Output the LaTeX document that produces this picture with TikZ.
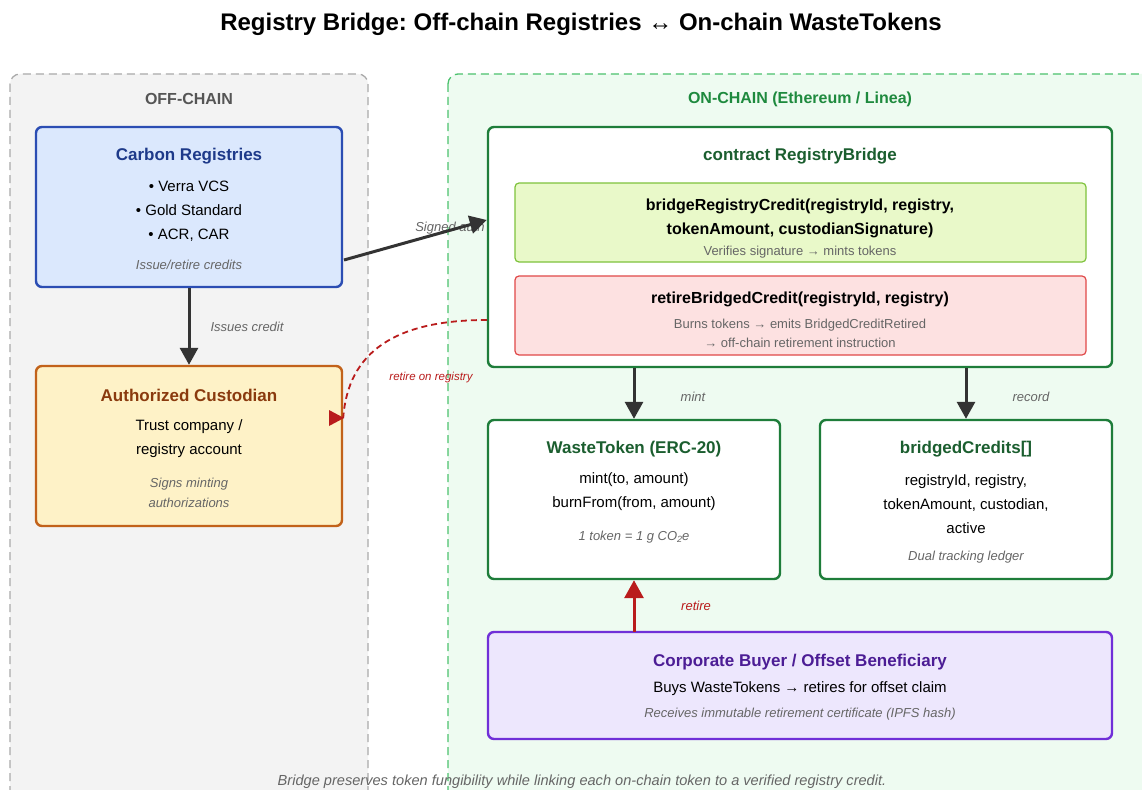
\documentclass[tikz,border=0pt]{standalone}
\usepackage{fontspec}
\setmainfont{Liberation Sans}
\frenchspacing
\usetikzlibrary{arrows.meta}
\definecolor{offfill}{HTML}{F3F3F3}
\definecolor{offborder}{HTML}{AAAAAA}
\definecolor{offtitle}{HTML}{555555}
\definecolor{onfill}{HTML}{EEFBF1}
\definecolor{onborder}{HTML}{4CC26E}
\definecolor{ontitle}{HTML}{1E8A3E}
\definecolor{carbonfill}{HTML}{DBE8FD}
\definecolor{carbonborder}{HTML}{2B4DB3}
\definecolor{carbontitle}{HTML}{1E3A8A}
\definecolor{custfill}{HTML}{FEF2C7}
\definecolor{custborder}{HTML}{C2621A}
\definecolor{custtitle}{HTML}{8A3A0E}
\definecolor{gborder}{HTML}{1E7D3A}
\definecolor{gtitle}{HTML}{1B5E2F}
\definecolor{bridgefill}{HTML}{E9F9C9}
\definecolor{bridgeborder}{HTML}{7EC23C}
\definecolor{retirefill}{HTML}{FDE1E1}
\definecolor{retireborder}{HTML}{E04848}
\definecolor{buyfill}{HTML}{EDE7FD}
\definecolor{buyborder}{HTML}{7030D8}
\definecolor{buytitle}{HTML}{4C1D95}
\definecolor{darkarrow}{HTML}{333333}
\definecolor{redarrow}{HTML}{B91C1C}
\definecolor{graytext}{HTML}{666666}
\tikzset{
  box/.style={draw, line width=2.4pt, rounded corners=6pt, inner sep=0pt},
  sub/.style={draw, line width=1.2pt, rounded corners=4pt, inner sep=0pt},
  tx/.style={inner sep=0pt, yshift=-2pt},
  ttl/.style={tx, font=\fontsize{17}{20}\selectfont\bfseries},
  body/.style={tx, font=\fontsize{15}{24}\selectfont, align=center},
  note/.style={tx, font=\fontsize{13}{20}\selectfont\itshape, text=graytext, align=center},
  lbl/.style={tx, font=\fontsize{13}{16}\selectfont\itshape, text=graytext},
  flow/.style={draw=darkarrow, line width=3pt, -{Triangle[length=17pt,width=18pt]}},
}
\begin{document}
\begin{tikzpicture}[x=1pt,y=-1pt]
\useasboundingbox (0,0) rectangle (1142,789);
\clip (0,0) rectangle (1142,789);
\fill[white] (0,0) rectangle (1142,789);
% title
\node[tx, font=\fontsize{24}{28}\selectfont\bfseries] (title) at (581,22) {Registry Bridge: Off-chain Registries ↔ On-chain WasteTokens};
% panels
\draw[fill=offfill, draw=offborder, line width=1.3pt, dash pattern=on 8pt off 5pt, rounded corners=10pt] (10,74) rectangle (368,830);
\draw[fill=onfill, draw=onborder, line width=1.3pt, dash pattern=on 8pt off 5pt, rounded corners=10pt] (448,74) rectangle (1180,830);
\node[tx, font=\fontsize{16}{19}\selectfont\bfseries, text=offtitle] (offlbl) at (189,97) {OFF-CHAIN};
\node[tx, font=\fontsize{16}{19}\selectfont\bfseries, text=ontitle] (onlbl) at (800,97) {ON-CHAIN (Ethereum / Linea)};
% carbon registries
\node[box, fill=carbonfill, draw=carbonborder, minimum width=306pt, minimum height=160pt] (carbon) at (189,207) {};
\node[ttl, text=carbontitle] (carbonT) at (189,154) {Carbon Registries};
\node[body] (carbonB) at (189,209) {• Verra VCS\\• Gold Standard\\• ACR, CAR};
\node[note] (carbonN) at (189,263) {Issue/retire credits};
% custodian
\node[box, fill=custfill, draw=custborder, minimum width=306pt, minimum height=160pt] (cust) at (189,446) {};
\node[ttl, text=custtitle] (custT) at (189,393) {Authorized Custodian};
\node[body] (custB) at (189,437) {Trust company /\\registry account};
\node[note] (custN) at (189,491) {Signs minting\\authorizations};
% contract
\node[box, fill=white, draw=gborder, minimum width=624pt, minimum height=240pt] (contract) at (800,247) {};
\node[ttl, text=gtitle] (contractT) at (800,154) {contract RegistryBridge};
\node[sub, fill=bridgefill, draw=bridgeborder, minimum width=571pt, minimum height=79pt] (bridge) at (800.5,222.5) {};
\node[tx, font=\fontsize{16}{24}\selectfont\bfseries, align=center] (bridgeB) at (800,216) {bridgeRegistryCredit(registryId, registry,\\tokenAmount, custodianSignature)};
\node[tx, font=\fontsize{13}{19}\selectfont, text=graytext] (bridgeN) at (800,250) {Verifies signature → mints tokens};
\node[sub, fill=retirefill, draw=retireborder, minimum width=571pt, minimum height=79pt] (retire) at (800.5,315.5) {};
\node[tx, font=\fontsize{16}{24}\selectfont\bfseries] (retireB) at (800,297) {retireBridgedCredit(registryId, registry)};
\node[tx, font=\fontsize{13}{19}\selectfont, text=graytext, align=center] (retireN) at (800,331.5) {Burns tokens → emits BridgedCreditRetired\\→ off-chain retirement instruction};
% waste token
\node[box, fill=white, draw=gborder, minimum width=292pt, minimum height=159pt] (waste) at (634,499.5) {};
\node[ttl, text=gtitle] (wasteT) at (634,447) {WasteToken (ERC-20)};
\node[body] (wasteB) at (634,490) {mint(to, amount)\\burnFrom(from, amount)};
\node[note] (wasteN) at (634,535) {1 token = 1 g CO\raisebox{-2pt}{\fontsize{9}{9}\selectfont 2}e};
% bridged credits
\node[box, fill=white, draw=gborder, minimum width=292pt, minimum height=159pt] (credits) at (966,499.5) {};
\node[ttl, text=gtitle] (creditsT) at (966,447) {bridgedCredits[]};
\node[body] (creditsB) at (966,502) {registryId, registry,\\tokenAmount, custodian,\\active};
\node[note] (creditsN) at (966,555) {Dual tracking ledger};
% buyer
\node[box, fill=buyfill, draw=buyborder, minimum width=624pt, minimum height=107pt] (buyer) at (800,685.5) {};
\node[ttl, text=buytitle] (buyerT) at (800,660) {Corporate Buyer / Offset Beneficiary};
\node[body] (buyerB) at (800,687) {Buys WasteTokens → retires for offset claim};
\node[note] (buyerN) at (800,712) {Receives immutable retirement certificate (IPFS hash)};
% connectors
\draw[flow] (carbon.south) -- (cust.north);
\node[lbl] (issuesL) at (247,325) {Issues credit};
\node[lbl] (signedL) at (450,226) {Signed auth};
\coordinate (sigA) at (344,260);
\coordinate (sigB) at (contract.west |- 0,220);
\draw[flow] (sigA) -- (sigB);
\coordinate (retA) at (contract.west |- 0,320);
\coordinate (retB) at (cust.east |- 0,418);
\draw[draw=redarrow, line width=1.8pt, dash pattern=on 6pt off 4pt] (retA) .. controls (395,320) and (348,352) .. (retB);
\fill[redarrow] (329,410) -- (344,418) -- (329,426) -- cycle;
\node[tx, font=\fontsize{11.5}{14}\selectfont\itshape, text=redarrow] (retL) at (431,376) {retire on registry};
\coordinate (mintA) at (634,368);
\draw[flow] (mintA) -- (waste.north);
\node[lbl] (mintL) at (693,395) {mint};
\coordinate (recA) at (966,368);
\draw[flow] (recA) -- (credits.north);
\node[lbl] (recL) at (1031,395) {record};
\coordinate (buyTop) at (634,632);
\draw[draw=redarrow, line width=3pt, -{Triangle[length=18pt,width=19pt]}] (buyTop) -- (waste.south);
\node[lbl, text=redarrow] (retireL) at (696,604) {retire};
% footer
\node[tx, font=\fontsize{14.6}{17}\selectfont\itshape, text=graytext] (foot) at (582,780) {Bridge preserves token fungibility while linking each on-chain token to a verified registry credit.};
\end{tikzpicture}
\end{document}
